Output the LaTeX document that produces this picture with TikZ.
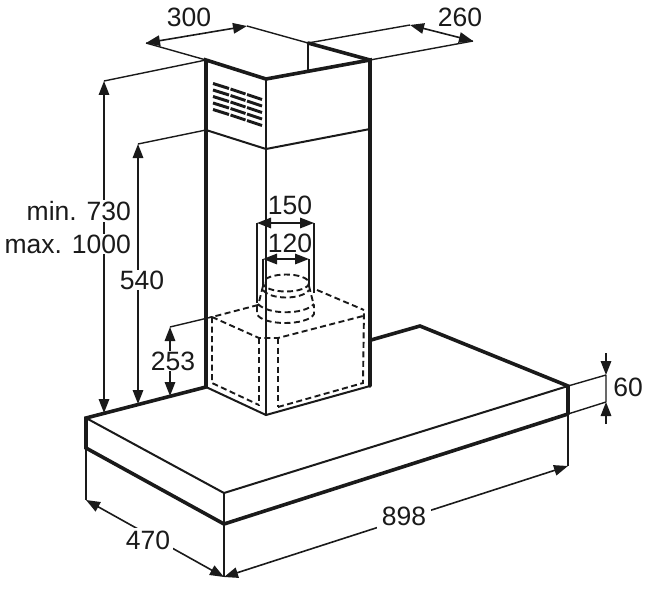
\documentclass[tikz,border=0pt]{standalone}
\usepackage{fontspec}
\setmainfont{Liberation Sans}
\usetikzlibrary{arrows.meta}
\definecolor{ink}{HTML}{1A1A1A}
\tikzset{
  thickline/.style={draw=ink,line width=3.6pt,line cap=round,line join=miter},
  midline/.style={draw=ink,line width=2pt,line cap=round},
  thinline/.style={draw=ink,line width=1.4pt},
  hidden/.style={draw=ink,line width=1.9pt,dash pattern=on 6pt off 3.5pt},
  dim/.style={draw=ink,line width=1.6pt},
  tip/.style={-{Triangle[length=14pt,width=10.5pt]}},
  tips/.style={{Triangle[length=14pt,width=10.5pt]}-{Triangle[length=14pt,width=10.5pt]}},
  lab/.style={text=ink,font=\fontsize{26.5}{26.5}\selectfont,inner sep=1pt},
  labw/.style={lab,fill=white},
  slot/.style={draw=ink,line width=3pt}
}
\begin{document}
\begin{tikzpicture}[x=1pt,y=-1pt]
\useasboundingbox[fill=white] (0,0) rectangle (652,591);
% chimney
\coordinate (cl) at (206,60);
\coordinate (cf) at (266,79);
\coordinate (cr) at (370,60);
\coordinate (cb) at (308,43);
\coordinate (cbb) at (308,70);
\coordinate (dl) at (206,130);
\coordinate (df) at (266,149);
\coordinate (dr) at (370,129);
\coordinate (bl) at (206,387);
\coordinate (bf) at (266,415);
\coordinate (br) at (370,386);
% hood
\coordinate (hl) at (86,418);
\coordinate (hlb) at (86,448);
\coordinate (hf) at (224,493);
\coordinate (hfb) at (224,524);
\coordinate (hr) at (568,386);
\coordinate (hrb) at (568,414);
\coordinate (hb) at (420,326);
\coordinate (hj) at (371,340);
% hidden box
\coordinate (xtl) at (212,317);
\coordinate (xtb) at (258,305);
\coordinate (xtf) at (259,338);
\coordinate (xtg) at (278,338);
\coordinate (xtr) at (363,316);
\coordinate (xbr) at (317,290);
\coordinate (xrr) at (364,310);
\coordinate (xbl) at (212,383);
\coordinate (xbf) at (259,405);
\coordinate (xbg) at (278,407);
\coordinate (xbe) at (363,383);
% dimension points
\coordinate (a300l) at (146,43);
\coordinate (a300r) at (247,26);
\coordinate (a260l) at (410,25);
\coordinate (a260r) at (473,41);
\coordinate (m1) at (104,81);
\coordinate (m2) at (104,413);
\coordinate (s1) at (138,144);
\coordinate (s2) at (138,404);
\coordinate (w1) at (170,327);
\coordinate (w2) at (170,396);
\coordinate (wm) at (170,361);
\coordinate (d150l) at (257,223);
\coordinate (d150r) at (314,223);
\coordinate (d150lb) at (257,303);
\coordinate (d150rb) at (314,293);
\coordinate (d120l) at (263,259);
\coordinate (d120r) at (309,259);
\coordinate (d120lb) at (263,287);
\coordinate (d120rb) at (309,287);
\coordinate (e470) at (86,500);
\coordinate (e898) at (224,577);
\coordinate (e898r) at (568,466);
\coordinate (s60t) at (606,375);
\coordinate (s60b) at (606,402);
\coordinate (s60ta) at (606,353);
\coordinate (s60ba) at (606,424);
% extension and dimension lines (under the labels)
\draw[thinline] (a300l) -- (cl) (a300r) -- (cb) -- (a260l) (cr) -- (a260r);
\draw[thinline] (cl) -- (m1) (dl) -- (s1) (xtl) -- (w1);
\draw[thinline] (d150lb) -- (d150l) (d150r) -- (d150rb);
\draw[thinline] (d120lb) -- (d120l) (d120r) -- (d120rb);
\draw[thinline] (hlb) -- (e470) (hfb) -- (e898) (hrb) -- (e898r);
\draw[thinline] (hr) -- (s60t) (hrb) -- (s60b) (s60t) -- (s60b);
\draw[dim,tips] (a300l) -- (a300r);
\draw[dim,tips] (a260l) -- (a260r);
\draw[dim,tips] (m1) -- (m2);
\draw[dim,tips] (s1) -- (s2);
\draw[dim,tip] (wm) -- (w1);
\draw[dim,tip] (wm) -- (w2);
\draw[dim,tips] (d150l) -- (d150r);
\draw[dim,tips] (d120l) -- (d120r);
\draw[dim,tips] (e470) -- (e898);
\draw[dim,tips] (e898) -- (e898r);
\draw[dim,tip] (s60ta) -- (s60t);
\draw[dim,tip] (s60ba) -- (s60b);
% labels
\node[lab] (t300) at (189,17) {300};
\node[lab] (t260) at (460,17) {260};
\node[lab] (t150) at (290,205) {150};
\node[lab] (t120) at (290,243) {120};
\node[lab] (t60) at (628,387) {60};
\node[labw,anchor=east] (tmin) at (132,211) {min. 730};
\node[labw,anchor=east] (tmax) at (132,244) {max. 1000};
\node[labw] (t540) at (142,280) {540};
\node[labw] (t253) at (173,361) {253};
\node[labw,inner sep=3pt] (t470) at (148,540) {470};
\node[labw,inner sep=5pt] (t898) at (404,516) {898};
% chimney outline
\draw[thinline] (cf) -- (bf);
\draw[thickline] (bl) -- (cl) -- (cf) -- (cr) -- (br);
\draw[thickline] (cb) -- (cr);
\draw[line width=2.6pt,draw=ink] (cb) -- (cbb);
\draw[midline] (dl) -- (df) -- (dr);
\draw[midline] (bl) -- (bf) -- (br);
% hood outline
\draw[thickline] (hj) -- (hb) -- (hr) -- (hrb);
\draw[thickline] (bl) -- (hl) -- (hlb) -- (hfb) -- (hrb);
\draw[midline] (hl) -- (hf) -- (hr);
\draw[thinline] (hf) -- (hfb);
% vent slots
\foreach \r in {0,...,4}{
  \draw[slot] (213,83.5+6.5*\r) -- (229,88.5+6.5*\r);
  \draw[slot] (230.5,89+6.5*\r) -- (245.5,94+6.5*\r);
  \draw[slot] (247,94.5+6.5*\r) -- (262,99.5+6.5*\r);
}
% hidden box
\draw[hidden] (xtb) -- (xtl) -- (xtf) -- (xtg) -- (xtr);
\draw[hidden] (xbr) -- (xrr);
\draw[hidden] (xtl) -- (xbl) -- (xbf);
\draw[hidden] (xtf) -- (xbf);
\draw[hidden] (xtg) -- (xbg);
\draw[hidden] (xbg) -- (xbe) -- (xrr);
% hidden duct
\draw[hidden] (286,283) ellipse [x radius=23,y radius=8.5];
\draw[hidden] (263,290) .. controls (270,300) and (302,300) .. (309,290);
\draw[hidden] (263,286) -- (258,306);
\draw[hidden] (309,286) -- (314,306);
\draw[hidden] (258,304) .. controls (268,315) and (304,315) .. (314,304);
\draw[hidden] (257,306) -- (257,314) .. controls (262,326) and (308,326) .. (314,314) -- (314,306);
\end{tikzpicture}
\end{document}
